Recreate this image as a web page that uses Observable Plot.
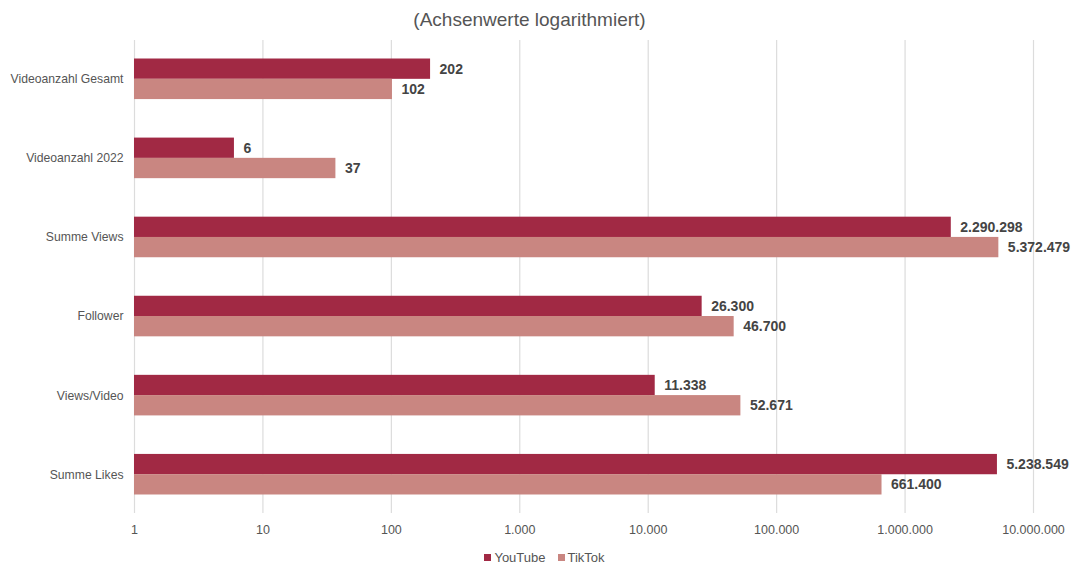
<!DOCTYPE html>
<html>
<head>
<meta charset="utf-8">
<script src="https://cdn.jsdelivr.net/npm/d3@7"></script>
<script src="https://cdn.jsdelivr.net/npm/@observablehq/plot@0.6"></script>
<style>
  html, body { margin: 0; padding: 0; background: #fff; }
  body { width: 1075px; font-family: "Liberation Sans", Arial, sans-serif; }
  #title { height: 40px; line-height: 40px; text-align: center; font-size: 19px; color: #555; padding-right: 16px; box-sizing: border-box; }
  #chart svg { display: block; }
  #legend { display: flex; justify-content: center; gap: 12px; font-size: 13px; color: #555; margin-top: 7px; padding-left: 14px; }
  #legend span.sw { display: inline-block; width: 7px; height: 7px; margin-right: 3px; vertical-align: 1px; }
</style>
</head>
<body>
<div id="title">(Achsenwerte logarithmiert)</div>
<div id="chart"></div>
<div id="legend"></div>
<script>
const categories = ["Videoanzahl Gesamt", "Videoanzahl 2022", "Summe Views", "Follower", "Views/Video", "Summe Likes"];
const seriesNames = ["YouTube", "TikTok"];
const youtubeValues = [202, 6, 2290298, 26300, 11338, 5238549];
const tiktokValues = [102, 37, 5372479, 46700, 52671, 661400];
const xTicks = [1, 10, 100, 1000, 10000, 100000, 1000000, 10000000];
const colors = ["#a12944", "#c98681"];

const de = d3.formatLocale({decimal: ",", thousands: ".", grouping: [3], currency: ["", "€"]});
const fmt = de.format(",d");

const yt = categories.map((c, i) => ({cat: c, series: seriesNames[0], value: youtubeValues[i]}));
const tt = categories.map((c, i) => ({cat: c, series: seriesNames[1], value: tiktokValues[i]}));

const half = 20.25;

const chart = Plot.plot({
  width: 1075,
  height: 503,
  marginLeft: 134,
  marginRight: 42,
  marginTop: 0,
  marginBottom: 30,
  style: {fontFamily: "Liberation Sans, Arial, sans-serif", fontSize: "12.5px", color: "#555", background: "#fff"},
  x: {type: "log", domain: [1, 1e7]},
  y: {domain: categories, paddingInner: 0.487, paddingOuter: 0.234, round: false},
  marks: [
    Plot.gridX(xTicks, {stroke: "#dcdcdc", strokeOpacity: 1, strokeWidth: 1.2}),
    Plot.axisX(xTicks, {tickFormat: fmt, tickSize: 0, tickPadding: 12, label: null, fill: "#555", fontSize: 12.5}),
    Plot.axisY({tickSize: 0, tickPadding: 11, label: null, fill: "#555", fontSize: 12.2}),
    Plot.barX(yt, {x1: d => 1, x2: "value", y: "cat", fill: colors[0], insetBottom: half}),
    Plot.barX(tt, {x1: d => 1, x2: "value", y: "cat", fill: colors[1], insetTop: half}),
    Plot.text(yt, {x: "value", y: "cat", text: d => fmt(d.value), dx: 9, dy: -10, textAnchor: "start", fill: "#444", fontWeight: "bold", fontSize: 14}),
    Plot.text(tt, {x: "value", y: "cat", text: d => fmt(d.value), dx: 9, dy: 10, textAnchor: "start", fill: "#444", fontWeight: "bold", fontSize: 14})
  ]
});
document.getElementById("chart").appendChild(chart);

const legend = document.getElementById("legend");
seriesNames.forEach((s, i) => {
  const item = document.createElement("div");
  const sw = document.createElement("span");
  sw.className = "sw";
  sw.style.background = colors[i];
  item.appendChild(sw);
  item.appendChild(document.createTextNode(s));
  legend.appendChild(item);
});
</script>
</body>
</html>
